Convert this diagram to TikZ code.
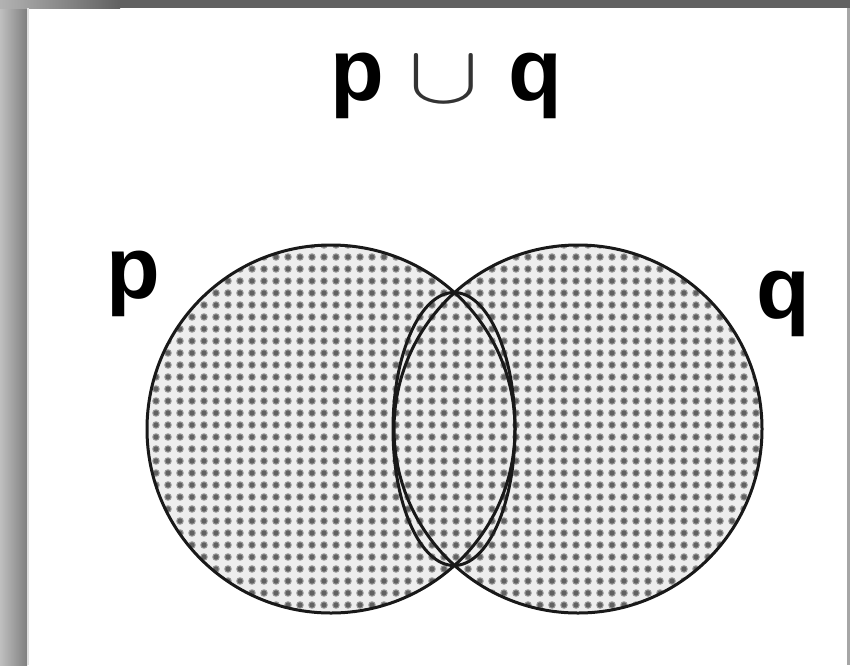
\documentclass[tikz,border=0pt]{standalone}
\usepackage{fontspec}
\setmainfont{Liberation Sans}
\usetikzlibrary{patterns.meta}
\tikzdeclarepattern{
  name=vdots,
  type=colored,
  bounding box={(-6pt,-6pt) and (6pt,6pt)},
  tile size={(12pt,12pt)},
  code={
    \pgfsetfillcolor{black!40}\pgfpathcircle{\pgfpointorigin}{3.8pt}\pgfusepath{fill}
    \pgfsetfillcolor{black!62}\pgfpathcircle{\pgfpointorigin}{2.6pt}\pgfusepath{fill}
  }
}
\tikzset{
  setfill/.style={fill=gray!14},
  setdots/.style={pattern=vdots},
  setline/.style={draw=black!90, line width=3pt},
  lbl/.style={inner sep=0pt, font=\fontsize{88}{88}\selectfont\bfseries, anchor=base},
}
\begin{document}
\begin{tikzpicture}[x=1pt,y=-1pt]
\useasboundingbox (0,0) rectangle (850,665);
% frame
\fill[white] (0,0) rectangle (850,665);
\shade[left color=black!25, right color=black!50] (0,0) rectangle (27,665);
\shade[left color=black!30, right color=black!62] (0,0) rectangle (120,8);
\fill[black!62] (120,0) rectangle (850,8);
\fill[gray!25] (27,8) rectangle (29,665);
\fill[gray!70] (847,8) rectangle (850,665);
% sets
\coordinate (cp) at (331,429);
\coordinate (cq) at (578,429);
\coordinate (ce) at (454,429);
\fill[setfill] (cp) circle (184) (cq) circle (184);
\fill[setdots] (cp) circle (184) (cq) circle (184);
\draw[setline] (cp) circle (184);
\draw[setline] (cq) circle (184);
\draw[setline] (ce) ellipse (61 and 136.5);
% labels
\node[lbl] (tp) at (357,100) {p};
\node[inner sep=0pt, text=black!80] (tu) at (444,80) {\scalebox{10.6}[8.2]{$\cup$}};
\node[lbl] (tq) at (535,100) {q};
\node[lbl] (lp) at (133,298) {p};
\node[lbl] (lq) at (783,318) {q};
\end{tikzpicture}
\end{document}
